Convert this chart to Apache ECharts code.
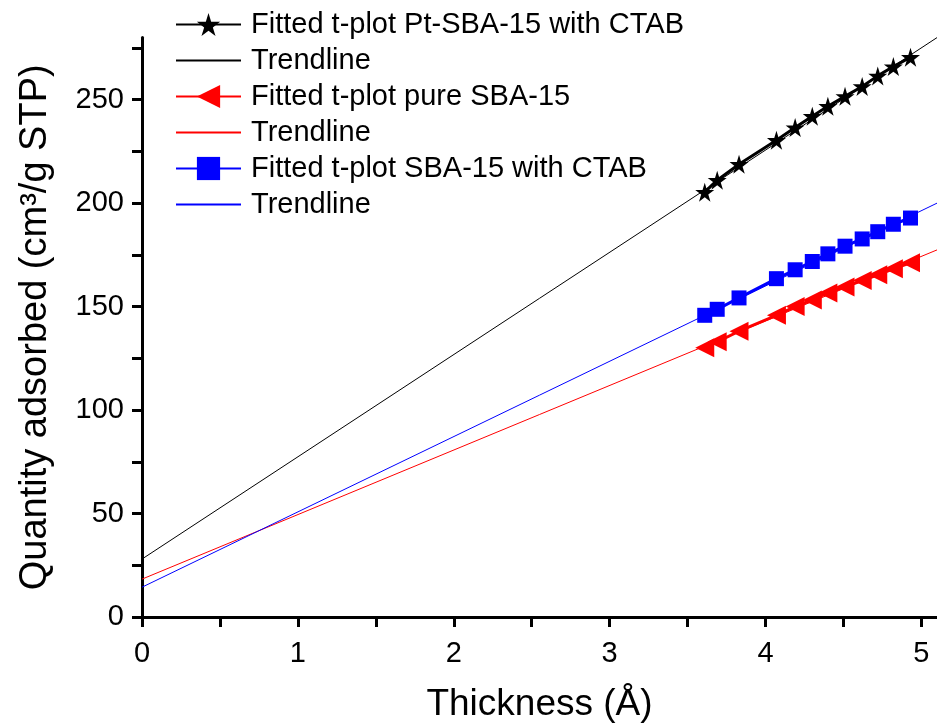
<!DOCTYPE html>
<html><head><meta charset="utf-8">
<script src="https://cdn.jsdelivr.net/npm/echarts@6/dist/echarts.min.js"></script>
<style>html,body{margin:0;padding:0;background:#fff}#c{width:937px;height:728px}</style>
</head><body><div id="c"></div>
<script>
// Thickness (Å) values of fitted points
const thickness = [3.61, 3.69, 3.83, 4.07, 4.19, 4.30, 4.40, 4.51, 4.62, 4.72, 4.82, 4.93];
// Fitted t-plot values (cm3/g STP)
const ptSba15Ctab = [205.3, 211.1, 218.8, 230.4, 236.5, 242.0, 246.8, 251.6, 256.4, 261.5, 266.0, 270.5];
const pureSba15   = [130.1, 133.0, 138.1, 145.8, 150.0, 153.2, 156.6, 159.5, 162.6, 165.4, 168.3, 171.2];
const sba15Ctab   = [145.8, 148.7, 154.2, 163.5, 167.8, 171.8, 175.5, 179.2, 182.7, 186.2, 189.8, 192.8];
// Trendline endpoints
const trendX = [0, 5.1];
const trendPtCtab = [28.0, 280.0];
const trendPure   = [18.3, 177.4];
const trendCtab   = [14.4, 200.0];
// Tick labels
const xTickLabels = [0, 1, 2, 3, 4, 5];
const xTicks = [0, 0.5, 1, 1.5, 2, 2.5, 3, 3.5, 4, 4.5, 5];
const yTickLabels = [0, 50, 100, 150, 200, 250];
const yTicks = [0, 25, 50, 75, 100, 125, 150, 175, 200, 225, 250, 275];

const pair = (xs, ys) => xs.map((x, i) => [x, ys[i]]);
const starPath = 'path://M50,0 L61,35 L98,35 L68,57 L79,91 L50,70 L21,91 L32,57 L2,35 L39,35 Z';
const font = 'Liberation Sans, Arial, sans-serif';

const chart = echarts.init(document.getElementById('c'), null, {renderer: 'canvas'});
chart.setOption({
  animation: false,
  backgroundColor: '#fff',
  grid: {left: 142, right: -7, top: 37.6, bottom: 108, containLabel: false},
  legend: {
    orient: 'vertical', left: 170, top: 5, itemWidth: 65, itemHeight: 29, itemGap: 7,
    textStyle: {fontSize: 29, color: '#000', fontFamily: font, padding: [0, 0, 0, 5]},
    data: [
      {name: 'Fitted t-plot Pt-SBA-15 with CTAB'},
      {name: 'Trendline', itemStyle: {opacity: 0}},
      {name: 'Fitted t-plot pure SBA-15'},
      {name: 'Trendline ', itemStyle: {opacity: 0}},
      {name: 'Fitted t-plot SBA-15 with CTAB'},
      {name: 'Trendline  ', itemStyle: {opacity: 0}}
    ]
  },
  xAxis: {
    type: 'value', min: 0, max: 5.1,
    name: 'Thickness (Å)', nameLocation: 'middle', nameGap: 69,
    nameTextStyle: {fontSize: 37, color: '#000', fontFamily: font},
    axisLine: {show: true, onZero: false, lineStyle: {color: '#000', width: 3}},
    axisTick: {show: true, length: 10, customValues: xTicks, lineStyle: {color: '#000', width: 3}},
    axisLabel: {customValues: xTickLabels, fontSize: 29, color: '#000', fontFamily: font, margin: 22},
    splitLine: {show: false}
  },
  yAxis: {
    type: 'value', min: 0, max: 280,
    name: 'Quantity adsorbed (cm³/g STP)', nameLocation: 'middle', nameGap: 87,
    nameTextStyle: {fontSize: 38, color: '#000', fontFamily: font},
    axisLine: {show: true, onZero: false, lineStyle: {color: '#000', width: 3}},
    axisTick: {show: true, length: 10, customValues: yTicks, lineStyle: {color: '#000', width: 3}},
    axisLabel: {customValues: yTickLabels, fontSize: 29, color: '#000', fontFamily: font, margin: 18},
    splitLine: {show: false}
  },
  series: [
    {name: 'Fitted t-plot Pt-SBA-15 with CTAB', type: 'line', data: pair(thickness, ptSba15Ctab), z: 5,
     symbol: starPath, symbolSize: 19, itemStyle: {color: '#000'}, lineStyle: {color: '#000', width: 3}},
    {name: 'Trendline', type: 'line', data: pair(trendX, trendPtCtab), symbol: 'none', z: 2,
     lineStyle: {color: '#000', width: 1}, itemStyle: {color: '#000'}},
    {name: 'Fitted t-plot pure SBA-15', type: 'line', data: pair(thickness, pureSba15), z: 5,
     symbol: 'triangle', symbolRotate: 90, symbolSize: 19, itemStyle: {color: '#ff0000'}, lineStyle: {color: '#ff0000', width: 3}},
    {name: 'Trendline ', type: 'line', data: pair(trendX, trendPure), symbol: 'none', z: 2,
     lineStyle: {color: '#ff0000', width: 1}, itemStyle: {color: '#ff0000'}},
    {name: 'Fitted t-plot SBA-15 with CTAB', type: 'line', data: pair(thickness, sba15Ctab), z: 5,
     symbol: 'rect', symbolSize: 15, itemStyle: {color: '#0000ff'}, lineStyle: {color: '#0000ff', width: 3}},
    {name: 'Trendline  ', type: 'line', data: pair(trendX, trendCtab), symbol: 'none', z: 2,
     lineStyle: {color: '#0000ff', width: 1}, itemStyle: {color: '#0000ff'}}
  ]
});
</script></body></html>
